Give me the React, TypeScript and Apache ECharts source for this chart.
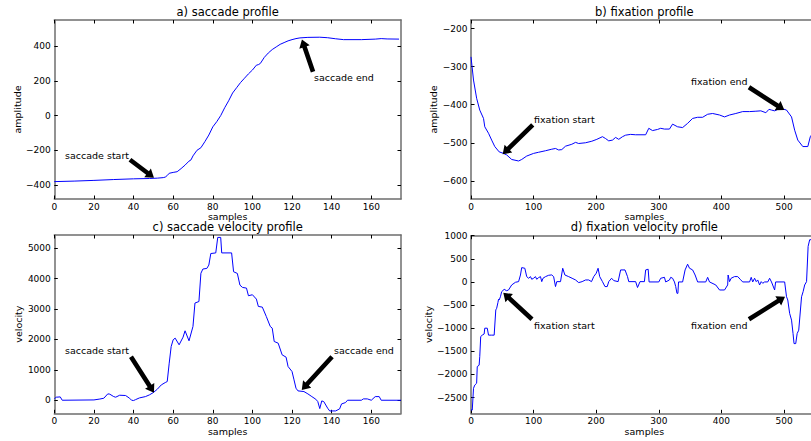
import React, { useEffect, useRef } from "react";
import * as echarts from "echarts";

const FONT = "DejaVu Sans";

const saccadeXTicks = [0, 20, 40, 60, 80, 100, 120, 140, 160];
const fixationXTicks = [0, 100, 200, 300, 400, 500];
const saccadeAmpYTicks = [-400, -200, 0, 200, 400];
const fixationAmpYTicks = [-600, -500, -400, -300, -200];
const saccadeVelYTicks = [0, 1000, 2000, 3000, 4000, 5000];
const fixationVelYTicks = [-2500, -2000, -1500, -1000, -500, 0, 500, 1000];

const saccadeAmplitude = [
  [0, -380], [10, -377], [20, -373], [30, -368], [40, -364], [48, -362], [52, -360], [55, -357],
  [56, -354], [57, -345], [58, -332], [60, -327], [62, -323], [64, -305], [66, -285], [68, -262],
  [69, -255], [70, -232], [72, -200], [74, -185], [76, -150], [78, -112], [80, -65], [82, -35],
  [84, 0], [86, 45], [88, 85], [90, 130], [92, 160], [94, 190], [96, 215], [98, 240], [100, 262],
  [102, 290], [103, 293], [104, 300], [106, 335], [108, 360], [110, 380], [112, 395], [114, 410],
  [116, 420], [118, 430], [120, 437], [122, 443], [124, 447], [128, 450], [134, 451], [138, 448],
  [142, 442], [146, 437], [155, 437], [162, 440], [165, 443], [168, 441], [174, 440],
];

const fixationAmplitude = [
  [0, -274], [4, -335], [9, -383], [14, -414], [20, -436], [22, -458], [28, -475], [33, -493],
  [38, -510], [45, -524], [52, -528], [57, -532], [65, -544], [76, -548], [81, -544], [89, -535],
  [100, -528], [108, -525], [119, -521], [129, -517], [135, -515], [140, -519], [145, -518],
  [151, -509], [161, -504], [167, -499], [172, -502], [183, -500], [193, -496], [201, -491],
  [210, -484], [215, -489], [220, -495], [226, -493], [231, -486], [236, -491], [242, -484],
  [247, -480], [255, -478], [263, -479], [279, -479], [284, -462], [290, -468], [298, -465],
  [303, -462], [309, -464], [317, -464], [322, -451], [330, -458], [338, -460], [346, -449],
  [354, -436], [362, -433], [370, -433], [378, -425], [386, -423], [397, -427], [405, -432],
  [413, -427], [423, -423], [434, -418], [445, -418], [455, -417], [463, -416], [471, -421],
  [476, -412], [480, -414], [485, -416], [493, -410], [500, -412], [504, -414], [512, -432],
  [517, -467], [522, -493], [530, -510], [538, -510], [542, -484], [546, -475], [552, -455],
];

const saccadeVelocity = [
  [0, 50], [1, 100], [3, 110], [4, 0], [20, 10], [23, 40], [25, 66], [27, 210], [28, 200],
  [30, 120], [31, 100], [33, 165], [36, 155], [38, 66], [39, 0], [40, -10], [41, 20], [43, 77],
  [46, 120], [48, 176], [50, 253], [52, 363], [54, 505], [56, 582], [57, 615], [58, 1220],
  [59, 1770], [60, 1990], [61, 2045], [63, 1825], [65, 2077], [66, 2286], [68, 1956], [70, 2430],
  [71, 3200], [73, 3250], [74, 4180], [75, 4320], [77, 4340], [78, 4450], [79, 4830], [81.5, 4850],
  [82.5, 5360], [84, 5360], [84.5, 4850], [89.5, 4850], [90.5, 4230], [92.4, 4175], [93.7, 3790],
  [95, 3714], [97, 3692], [98, 3440], [100, 3473], [102, 3330], [103, 3088], [105, 3066],
  [107, 2758], [109, 2430], [110, 2374], [111, 1934], [113, 1879], [115, 1495], [117, 1418],
  [118, 1110], [120, 945], [121, 670], [122, 396], [123, 308], [126, 286], [128, 209], [130, 120],
  [132, 33], [133, -44], [134, -275], [135, -22], [136, -44], [138, -264], [139, -352], [142, -352],
  [144, -286], [145, -121], [147, -77], [148, 0], [155, 0], [156, 44], [158, 44], [160, 0],
  [162, 120], [164, 120], [165, 0], [175, 0],
];

const fixationVelocity = [
  [0, -2770], [2, -2770], [4, -2300], [6, -2230], [9, -2190], [10, -1830], [13, -1800],
  [14, -1615], [15.5, -1180], [18, -1150], [21, -1125], [22, -1000], [26, -1000], [28, -1150],
  [33, -1150], [37, -1150], [39.6, -605], [41, -570], [43, -447], [44, -375], [45, -390],
  [47, -320], [49, -210], [53, -160], [57, -190], [60, -173], [65, -65], [71, -7], [76, 7],
  [79, 150], [81, 310], [86, 296], [89, 115], [92, 80], [95, 115], [97, 58], [100, 80],
  [103, 115], [105, 58], [108, 94], [111, 115], [113, 7], [115, 80], [119, 115], [124, 144],
  [129, 152], [132, 115], [135, -100], [137, 7], [143, 7], [146.5, 296], [150, 150], [156, 115],
  [161.5, 80], [167, 43], [172, -14], [177.5, 7], [183, 43], [188, 43], [192.5, 7], [196, 115],
  [200, 188], [203, 296], [205.6, 115], [210, 7], [214, -100], [217.6, -100], [220, 7],
  [224.6, 80], [228, 29], [235, 7], [239, 260], [246, 260], [250, 115], [252, 7], [263, 7],
  [266, -120], [270, 7], [277, 7], [279, 260], [283, 275], [284.5, 0], [300, 0], [303, 80],
  [309, 100], [311, 0], [317, 43], [319, 100], [322, 80], [325, 0], [327, -100], [329, -246],
  [330.5, -246], [331.5, 0], [338, 0], [342, 260], [346, 384], [349, 297], [354, 260], [358, 150],
  [362, 0], [375, 0], [378, 100], [381, 0], [391, -65], [397, -174], [405, -174], [410, -65],
  [410.7, 150], [413, 7], [415.5, 80], [421, 116], [426, 116], [430, 58], [434, 0], [445, 0],
  [447.6, 100], [450, 0], [453, 80], [455.6, 7], [458, 43], [461, -65], [463.6, 7], [466, -29],
  [469, 0], [474, 0], [477, 80], [480, 0], [485, -174], [486.6, 0], [501, 0], [504, -320],
  [506, -390], [509, -680], [512, -825], [514.4, -1115], [516, -1333], [518.7, -1333],
  [521, -1115], [523.5, -1043], [528, -320], [530.5, -210], [533, -65], [536, 7], [538.5, 768],
  [541, 913], [546, 913], [553, 913],
];

const saccadeAmpNotes = [
  { label: "saccade start", head: [50.3, -358], tail: [38.2, -254], text: [5.4, -231] },
  { label: "saccade end", head: [125, 438], tail: [130.6, 252], text: [131.1, 219] },
];
const fixationAmpNotes = [
  { label: "fixation start", head: [50.6, -530], tail: [98.6, -453], text: [100.6, -440] },
  { label: "fixation end", head: [500.5, -414], tail: [444, -354], text: [351.4, -339.5] },
];
const saccadeVelNotes = [
  { label: "saccade start", head: [50.3, 250], tail: [38.7, 1434], text: [5.4, 1622] },
  { label: "saccade end", head: [124.9, 339], tail: [140.2, 1434], text: [141.2, 1622] },
];
const fixationVelNotes = [
  { label: "fixation start", head: [51.6, -232], tail: [97.4, -807], text: [100.6, -931] },
  { label: "fixation end", head: [501.6, -318], tail: [444, -807], text: [351.4, -931] },
];

const PLOT_W = 346.7;
const FRAME = "#6e6e6e";

const panels = [
  { title: "a) saccade profile", data: saccadeAmplitude, notes: saccadeAmpNotes, xMax: 175, yMin: -480, yMax: 550,
    xTicks: saccadeXTicks, yTicks: saccadeAmpYTicks, yName: "amplitude",
    left: 54.3, top: 20, height: 179, titleY: 12.3, yNameGap: 30, xNameGap: 11 },
  { title: "b) fixation profile", data: fixationAmplitude, notes: fixationAmpNotes, xMax: 553.8, yMin: -648, yMax: -177,
    xTicks: fixationXTicks, yTicks: fixationAmpYTicks, yName: "amplitude",
    left: 471, top: 20, height: 179, titleY: 12.3, yNameGap: 31, xNameGap: 11 },
  { title: "c) saccade velocity profile", data: saccadeVelocity, notes: saccadeVelNotes, xMax: 175, yMin: -430, yMax: 5440,
    xTicks: saccadeXTicks, yTicks: saccadeVelYTicks, yName: "velocity",
    left: 54.3, top: 235, height: 178.3, titleY: 226.7, yNameGap: 28.5, xNameGap: 13 },
  { title: "d) fixation velocity profile", data: fixationVelocity, notes: fixationVelNotes, xMax: 553.8, yMin: -2840, yMax: 1000,
    xTicks: fixationXTicks, yTicks: fixationVelYTicks, yName: "velocity",
    left: 471, top: 235.7, height: 177.6, titleY: 227.3, yNameGap: 37.5, xNameGap: 13 },
];

const minus = (v: number) => String(v).replace("-", "\u2212");

function arrowPoints(t: number[], h: number[]) {
  const dx = h[0] - t[0];
  const dy = h[1] - t[1];
  const len = Math.sqrt(dx * dx + dy * dy) || 1;
  const ux = dx / len, uy = dy / len;
  const nx = -uy, ny = ux;
  const sw = 2.3, hw = 5.5, hl = 8;
  const bx = h[0] - ux * hl, by = h[1] - uy * hl;
  return [
    [t[0] + nx * sw, t[1] + ny * sw],
    [bx + nx * sw, by + ny * sw],
    [bx + nx * hw, by + ny * hw],
    [h[0], h[1]],
    [bx - nx * hw, by - ny * hw],
    [bx - nx * sw, by - ny * sw],
    [t[0] - nx * sw, t[1] - ny * sw],
  ];
}

export default function App() {
  const ref = useRef<HTMLDivElement>(null);
  useEffect(() => {
    if (!ref.current) return;
    const chart = echarts.init(ref.current, null, { renderer: "svg" });
    const tickLabel = { fontSize: 9, fontFamily: FONT, color: "#000" };
    const nameStyle = { fontSize: 9.5, fontFamily: FONT, color: "#000" };
    const grids: any[] = [];
    const xAxes: any[] = [];
    const yAxes: any[] = [];
    const series: any[] = [];
    const graphics: any[] = [];
    panels.forEach((p, i) => {
      grids.push({ left: p.left, top: p.top, width: PLOT_W, height: p.height, outerBoundsMode: "none", containLabel: false });
      const axisLine = { show: true, onZero: false, lineStyle: { color: FRAME, width: 1.5 } };
      const xTick = { show: true, inside: true, length: 3.5, customValues: p.xTicks, lineStyle: { color: "#000", width: 1 } };
      const yTick = { show: true, inside: true, length: 3.5, customValues: p.yTicks, lineStyle: { color: "#000", width: 1 } };
      xAxes.push({
        type: "value", gridIndex: i, position: "bottom", min: 0, max: p.xMax,
        axisLine, axisTick: xTick, splitLine: { show: false },
        axisLabel: { ...tickLabel, customValues: p.xTicks, margin: 3, formatter: minus, showMinLabel: true, showMaxLabel: true },
        name: "samples", nameLocation: "middle", nameGap: p.xNameGap, nameTextStyle: nameStyle,
      });
      xAxes.push({
        type: "value", gridIndex: i, position: "top", min: 0, max: p.xMax,
        axisLine, axisTick: xTick, splitLine: { show: false }, axisLabel: { show: false },
      });
      yAxes.push({
        type: "value", gridIndex: i, position: "left", min: p.yMin, max: p.yMax,
        axisLine, axisTick: yTick, splitLine: { show: false },
        axisLabel: { ...tickLabel, customValues: p.yTicks, margin: 3.5, formatter: minus },
        name: p.yName, nameLocation: "middle", nameGap: p.yNameGap, nameRotate: 90, nameTextStyle: nameStyle,
      });
      yAxes.push({
        type: "value", gridIndex: i, position: "right", min: p.yMin, max: p.yMax,
        axisLine, axisTick: yTick, splitLine: { show: false }, axisLabel: { show: false },
      });
      series.push({
        type: "line", xAxisIndex: 2 * i, yAxisIndex: 2 * i, data: p.data, symbol: "none", showSymbol: false,
        lineStyle: { color: "#0000ff", width: 1 }, clip: true, silent: true, z: 3,
      });
      const notes = p.notes;
      series.push({
        type: "custom", xAxisIndex: 2 * i, yAxisIndex: 2 * i, clip: false, silent: true, z: 5,
        data: notes.map((n) => [n.head[0], n.head[1], n.tail[0], n.tail[1], n.text[0], n.text[1]]),
        renderItem: (params: any, api: any) => {
          const h = api.coord([api.value(0), api.value(1)]);
          const t = api.coord([api.value(2), api.value(3)]);
          const tp = api.coord([api.value(4), api.value(5)]);
          const label = notes[params.dataIndex].label;
          return {
            type: "group",
            children: [
              { type: "polygon", shape: { points: arrowPoints(t, h) }, style: { fill: "#000", stroke: "none" } },
              {
                type: "text", x: tp[0], y: tp[1],
                style: {
                  text: label, fill: "#000", fontSize: 9.5, fontFamily: FONT,
                  align: "left", verticalAlign: "middle", textAlign: "left", textVerticalAlign: "middle",
                },
              },
            ],
          };
        },
      });
      graphics.push({
        type: "text", x: p.left + PLOT_W / 2, y: p.titleY, z: 10,
        style: {
          text: p.title, fill: "#000", fontSize: 11.5, fontFamily: FONT,
          align: "center", verticalAlign: "middle", textAlign: "center", textVerticalAlign: "middle",
        },
      });
    });
    chart.setOption({
      animation: false,
      backgroundColor: "#fff",
      grid: grids,
      xAxis: xAxes,
      yAxis: yAxes,
      series,
      graphic: graphics,
    });
    return () => chart.dispose();
  }, []);
  return <div ref={ref} style={{ position: "fixed", left: 0, top: 0, width: 811, height: 441 }} />;
}
